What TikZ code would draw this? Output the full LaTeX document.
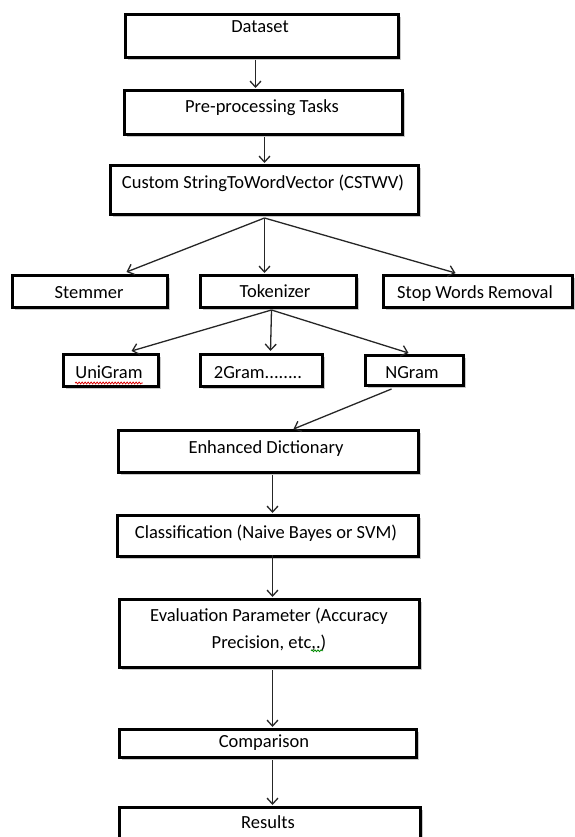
\documentclass[tikz,border=0pt]{standalone}
\usepackage{fontspec}
\setmainfont{Carlito}
\usetikzlibrary{arrows.meta,calc,shadows,decorations.pathmorphing}
\begin{document}
\begin{tikzpicture}[x=1pt,y=-1pt,
  box/.style={draw=black,line width=3pt,fill=white,inner sep=0pt,anchor=north west,
     drop shadow={shadow xshift=2.5pt,shadow yshift=-2.5pt,opacity=0.3,fill=black!70}},
  lbl/.style={inner sep=0pt,font=\fontsize{18.5}{27}\selectfont,text=black,anchor=base},
  arr/.style={line width=1.3pt,draw=black!85,-{Straight Barb[length=6pt,width=11pt]}},
  squig/.style={line width=0.8pt,decorate,decoration={snake,segment length=3pt,amplitude=0.9pt}}]
\useasboundingbox (0,0) rectangle (574,837);
% boxes
\node[box,minimum width=273pt,minimum height=43pt] (ds) at (124,13) {};
\node[box,minimum width=278pt,minimum height=44pt] (pre) at (123,89) {};
\node[box,minimum width=308pt,minimum height=49pt] (cst) at (109,164) {};
\node[box,minimum width=155pt,minimum height=32pt] (stem) at (11,274) {};
\node[box,minimum width=156pt,minimum height=32pt] (tok) at (199,274) {};
\node[box,minimum width=189pt,minimum height=32pt] (stop) at (382,274) {};
\node[box,minimum width=95pt,minimum height=32pt] (uni) at (62,353) {};
\node[box,minimum width=122pt,minimum height=32pt] (two) at (199,353) {};
\node[box,minimum width=98pt,minimum height=30pt] (ng) at (364,354) {};
\node[box,minimum width=300pt,minimum height=42pt] (ed) at (117,429) {};
\node[box,minimum width=301pt,minimum height=41pt] (cls) at (116,514) {};
\node[box,minimum width=300pt,minimum height=68pt] (ev) at (118,598) {};
\node[box,minimum width=297pt,minimum height=28pt] (cmp) at (118,728) {};
\node[box,minimum width=301pt,minimum height=45pt] (res) at (118,806) {};
% texts
\node[lbl] (dsT) at (260,33) {Dataset};
\node[lbl] (preT) at (262,113) {Pre-processing Tasks};
\node[lbl] (cstT) at (263,188) {Custom StringToWordVector (CSTWV)};
\node[lbl] (stemT) at (89,298) {Stemmer};
\node[lbl] (tokT) at (275,297) {Tokenizer};
\node[lbl] (stopT) at (475,298) {Stop Words Removal};
\node[lbl] (uniT) at (109,378) {UniGram};
\node[lbl] (twoT) at (258,378) {2Gram........};
\node[lbl] (ngT) at (412,378) {NGram};
\node[lbl] (edT) at (266,453) {Enhanced Dictionary};
\node[lbl] (clsT) at (266,538) {Classification (Naive Bayes or SVM)};
\node[lbl,anchor=center,align=center] (evT) at (269,630) {Evaluation Parameter (Accuracy\\Precision, etc,.)};
\node[lbl] (cmpT) at (264,747) {Comparison};
\node[lbl] (resT) at (268,828) {Results};
% squiggles
\draw[squig,red!85!black] ($(uniT.base west)+(0,5)$) -- ($(uniT.base east)+(0,5)$);
\draw[squig,green!55!black] ($(evT.south)+(42,-1)$) -- ($(evT.south)+(54,-1)$);
% connectors
\draw[arr] ($(ds.south)+(-6.5,1)$) -- ($(pre.north)+(-8,-1)$);
\draw[arr] ($(pre.south)+(1,1)$) -- ($(cst.north)+(0,-1)$);
\draw[arr] ($(cst.south)+(0,2)$) -- ($(stem.north)+(36.5,-2)$);
\draw[arr] ($(cst.south)+(0,2)$) -- ($(tok.north)+(-14,-1)$);
\draw[arr] ($(cst.south)+(0,2)$) -- ($(stop.north)+(-22.5,-1)$);
\draw[arr] ($(tok.south)+(-7,1)$) -- ($(uni.north)+(20.5,-2)$);
\draw[arr] ($(tok.south)+(-7,1)$) -- ($(two.north)+(9,-2)$);
\draw[arr] ($(tok.south)+(-7,1)$) -- ($(ng.north)+(-6,-1)$);
\draw[arr] ($(ng.south)+(-23,2)$) -- ($(ed.north)+(25,0)$);
\draw[arr] ($(ed.south)+(4,1)$) -- ($(cls.north)+(4.5,-1)$);
\draw[arr] ($(cls.south)+(4.5,-3)$) -- ($(ev.north)+(3,-1)$);
\draw[arr] ($(ev.south)+(3,1)$) -- ($(cmp.north)+(4.5,-1)$);
\draw[arr] ($(cmp.south)+(4.5,1)$) -- ($(res.north)+(2.5,-1)$);
\end{tikzpicture}
\end{document}
